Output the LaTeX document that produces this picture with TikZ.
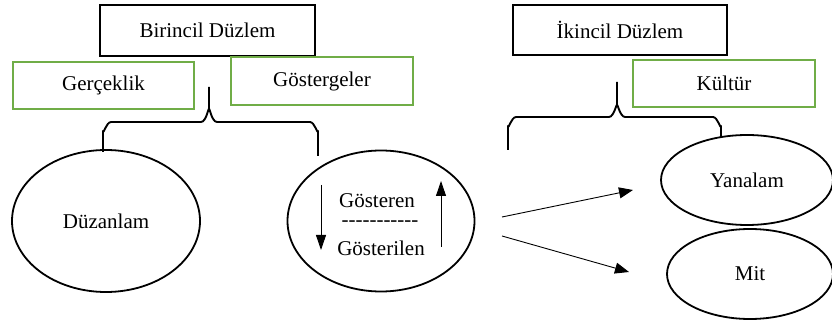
\documentclass[tikz,border=0pt]{standalone}
\usepackage{fontspec}
\setmainfont{Liberation Serif}
\usetikzlibrary{shapes.geometric,arrows.meta}
\definecolor{boxgreen}{RGB}{112,173,71}
\newcommand{\hy}{\mbox{-}}
\begin{document}
\begin{tikzpicture}[x=1pt,y=-1pt,
  every node/.style={font=\fontsize{21}{25}\selectfont, inner sep=0pt},
  blackbox/.style={draw=black, line width=1.8pt, rectangle},
  greenbox/.style={draw=boxgreen, line width=1.8pt, rectangle},
  oval/.style={draw=black, line width=1.8pt, ellipse},
  bracepath/.style={draw=black, line width=1.9pt, line join=round},
  thinarrow/.style={draw=black, line width=0.9pt, -{Triangle[length=14pt,width=11pt]}}]
\useasboundingbox (0,0) rectangle (832,320);
\fill[white] (0,0) rectangle (832,320);
% boxes
\node[blackbox, minimum width=215pt, minimum height=51pt] (b1) at (207.5,30.5) {Birincil Düzlem};
\node[greenbox, minimum width=181pt, minimum height=47pt] (g1) at (103.5,85.5) {Gerçeklik};
\node[greenbox, minimum width=182pt, minimum height=48pt] (g2) at (322,81) {Göstergeler};
\node[blackbox, minimum width=214pt, minimum height=50pt] (b2) at (620,30) {İkincil Düzlem};
\node[greenbox, minimum width=182pt, minimum height=47pt] (k) at (724,83.5) {Kültür};
% ellipses
\node[oval, minimum width=188pt, minimum height=142pt] (e1) at (106,221) {Düzanlam};
\node[oval, minimum width=187pt, minimum height=141pt] (e2) at (381,221) {};
\node[oval, minimum width=172pt, minimum height=90pt] (e3) at (747,180) {Yanalam};
\node[oval, minimum width=166pt, minimum height=90pt] (e4) at (750,274) {Mit};
% inner texts
\node (t1) at (377,201) {Gösteren};
\node (t2) at (380,224) {\hy\hy\hy\hy\hy\hy\hy\hy\hy\hy\hy};
\node (t3) at (381,248) {Gösterilen};
% inner arrows
\coordinate (da1) at (321,185);
\coordinate (da2) at (321,250);
\coordinate (ua1) at (441,247);
\coordinate (ua2) at (441,181);
\draw[thinarrow, -{Triangle[length=15pt,width=10pt]}] (da1) -- (da2);
\draw[thinarrow, -{Triangle[length=15pt,width=10pt]}] (ua1) -- (ua2);
% braces
\draw[bracepath] (103,152) -- (103,131) to[out=-90,in=180] (111,122) -- (201,122) to[out=0,in=90] (209,110) -- (209,87);
\draw[bracepath] (209,110) to[out=90,in=180] (217,122) -- (310,122) to[out=0,in=-90] (318,131) -- (318,156);
\draw[bracepath] (508,150) -- (508,126) to[out=-90,in=180] (516,117) -- (609,117) to[out=0,in=90] (617,106) -- (617,82);
\draw[bracepath] (617,106) to[out=90,in=180] (625,117) -- (713,117) to[out=0,in=-90] (721,126) -- (721,137);
% connecting arrows
\coordinate (a1s) at (502,217);
\coordinate (a1e) at (633,190);
\coordinate (a2s) at (502,236);
\coordinate (a2e) at (629,272);
\draw[thinarrow] (a1s) -- (a1e);
\draw[thinarrow] (a2s) -- (a2e);
\end{tikzpicture}
\end{document}
